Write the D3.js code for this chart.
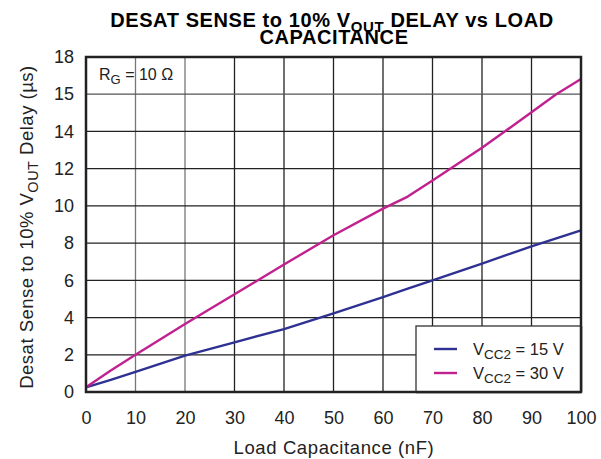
<!DOCTYPE html>
<html><head><meta charset="utf-8">
<script src="https://cdn.jsdelivr.net/npm/d3@7"></script>
<style>body{margin:0;background:#fff}svg{display:block}text{font-family:"Liberation Sans",Arial,sans-serif}</style>
</head><body>
<svg id="c" width="601" height="459"></svg>
<script>
const capacitance = [0, 5, 10, 20, 30, 40, 50, 60, 65, 70, 80, 90, 95, 100];
const vcc15 = [0.25, 0.65, 1.08, 1.95, 2.67, 3.38, 4.22, 5.1, 5.55, 6.0, 6.9, 7.83, 8.26, 8.69];
const vcc30 = [0.25, 1.15, 2.0, 3.65, 5.25, 6.85, 8.42, 9.85, 10.5, 11.37, 13.12, 15.03, 16.0, 16.82];
const xTicks = [0,10,20,30,40,50,60,70,80,90,100];
const yTicks = [0,2,4,6,8,10,12,14,16,18];
const yTickLabels = ["0","2","4","6","8","10","12","14","15","18"];
const seriesNames = ["15 V", "30 V"];
const seriesColors = ["#2e3192", "#c1208f"];

const svg = d3.select("#c");
const L=86, R=581, T=57, B=392;
const x = d3.scaleLinear().domain([0,100]).range([L,R]);
const y = d3.scaleLinear().domain([0,18]).range([B,T]);
const FONT = "Liberation Sans, Arial, sans-serif";

// grid
const g = svg.append("g");
g.selectAll(".vx").data(xTicks.slice(1,-1)).join("line")
 .attr("x1",d=>x(d)).attr("x2",d=>x(d)).attr("y1",T).attr("y2",B)
 .attr("stroke",(d)=>d<=20?"#777":"#222").attr("stroke-width",1.3);
g.selectAll(".hy").data(yTicks.slice(1,-1)).join("line")
 .attr("y1",d=>y(d)).attr("y2",d=>y(d)).attr("x1",L).attr("x2",R)
 .attr("stroke",d=>d==16?"#555":"#222").attr("stroke-width",1.3);

// axes labels via d3 axes
const xa = svg.append("g").attr("transform",`translate(0,${B})`)
 .call(d3.axisBottom(x).tickValues(xTicks).tickSize(0).tickPadding(19));
xa.select(".domain").remove();
xa.selectAll("text").attr("font-size",18).attr("fill","#222").attr("font-family",FONT);
const ya = svg.append("g").attr("transform",`translate(${L},0)`)
 .call(d3.axisLeft(y).tickValues(yTicks).tickFormat((d,i)=>yTickLabels[i]).tickSize(0).tickPadding(12));
ya.select(".domain").remove();
ya.selectAll("text").attr("font-size",18).attr("fill","#222").attr("font-family",FONT);

// lines
const line = d3.line().x((d,i)=>x(capacitance[i])).y(d=>y(d));
[vcc15, vcc30].forEach((s,i)=>{
  svg.append("path").attr("d",line(s)).attr("fill","none")
   .attr("stroke",seriesColors[i]).attr("stroke-width",2.4).attr("stroke-linejoin","round");
});

// frame
svg.append("rect").attr("x",L).attr("y",T).attr("width",R-L).attr("height",B-T)
 .attr("fill","none").attr("stroke","#222").attr("stroke-width",2.5);

// legend
const lg = svg.append("g");
lg.append("rect").attr("x",416).attr("y",326).attr("width",R-416).attr("height",B-326)
 .attr("fill","#fff").attr("stroke","#333").attr("stroke-width",1.3);
svg.append("line").attr("x1",R).attr("x2",R).attr("y1",326).attr("y2",B).attr("stroke","#222").attr("stroke-width",2.5);
svg.append("line").attr("x1",416).attr("x2",R).attr("y1",B).attr("y2",B).attr("stroke","#222").attr("stroke-width",2.5);
seriesNames.forEach((n,i)=>{
  const yy = 349 + i*24;
  lg.append("line").attr("x1",434).attr("x2",457).attr("y1",yy).attr("y2",yy)
   .attr("stroke",seriesColors[i]).attr("stroke-width",2.4);
  const t = lg.append("text").attr("x",473).attr("y",yy+6).attr("font-size",16.5).attr("fill","#222");
  t.append("tspan").text("V");
  t.append("tspan").attr("font-size",13.5).attr("dy",4).text("CC2");
  t.append("tspan").attr("dy",-4).text(" = " + n);
});

// RG annotation
const rg = svg.append("text").attr("x",99).attr("y",80).attr("font-size",16).attr("fill","#222");
rg.append("tspan").text("R");
rg.append("tspan").attr("font-size",13).attr("dy",4).text("G");
rg.append("tspan").attr("dy",-4).text(" = 10 \u03A9");

// title
const t1 = svg.append("text").attr("x",332).attr("y",27).attr("text-anchor","middle")
 .attr("font-size",20).attr("font-weight","bold").attr("letter-spacing",0.6).attr("fill","#000");
t1.append("tspan").text("DESAT SENSE to 10% V");
t1.append("tspan").attr("font-size",15).attr("dy",5).text("OUT");
t1.append("tspan").attr("dy",-5).text(" DELAY vs LOAD");
svg.append("text").attr("x",334).attr("y",44).attr("text-anchor","middle")
 .attr("font-size",20).attr("font-weight","bold").attr("letter-spacing",0.6).attr("fill","#000").text("CAPACITANCE");

// axis titles
svg.append("text").attr("x",334).attr("y",454).attr("text-anchor","middle")
 .attr("font-size",18.5).attr("letter-spacing",0.6).attr("fill","#222").text("Load Capacitance (nF)");
const yt = svg.append("text").attr("transform","translate(33,227) rotate(-90)").attr("text-anchor","middle")
 .attr("font-size",18.5).attr("letter-spacing",0.5).attr("fill","#222");
yt.append("tspan").text("Desat Sense to 10% V");
yt.append("tspan").attr("font-size",14.5).attr("dy",5).text("OUT");
yt.append("tspan").attr("dy",-5).text("  Delay (\u00B5s)");
</script>
</body></html>
